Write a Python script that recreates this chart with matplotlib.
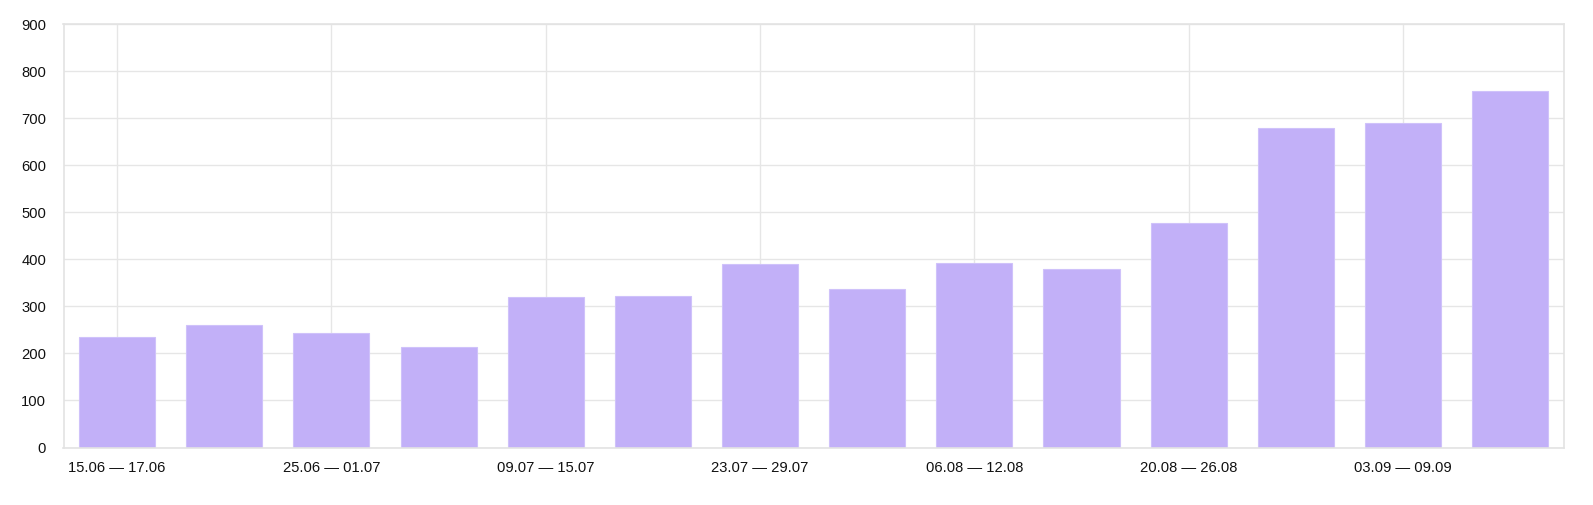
import matplotlib
matplotlib.use("Agg")
import matplotlib.pyplot as plt
import numpy as np

plt.rcParams['font.family'] = ['Liberation Sans', 'DejaVu Sans']

categories = [
    "15.06 — 17.06", "18.06 — 24.06", "25.06 — 01.07", "02.07 — 08.07",
    "09.07 — 15.07", "16.07 — 22.07", "23.07 — 29.07", "30.07 — 05.08",
    "06.08 — 12.08", "13.08 — 19.08", "20.08 — 26.08", "27.08 — 02.09",
    "03.09 — 09.09", "10.09 — 16.09",
]
values = [234, 260, 244, 214, 320, 323, 390, 336, 392, 379, 478, 679, 689, 758]
y_ticks = [0, 100, 200, 300, 400, 500, 600, 700, 800, 900]

bar_color = "#c2b0f8"
grid_color = "#e6e6e6"

fig = plt.figure(figsize=(15.93, 5.05), dpi=100)
ax = fig.add_axes([63.5 / 1593, 1 - 447.5 / 505, (1563.7 - 63.5) / 1593, (447.5 - 24) / 505])

x = np.arange(len(categories))
ax.bar(x, values, width=0.71, color=bar_color, edgecolor="#cfc2fa", linewidth=0.8, zorder=2)

ax.set_xlim(-0.5, len(categories) - 0.5)
ax.set_ylim(0, 900)
ax.set_yticks(y_ticks)
ax.set_yticklabels([str(v) for v in y_ticks])

label_idx = x[::2]
ax.set_xticks(label_idx)
ax.set_xticklabels([categories[i] for i in label_idx])

ax.grid(True, axis="both", color=grid_color, linewidth=1, zorder=0)
ax.set_axisbelow(True)

for s in ax.spines.values():
    s.set_color("#e3e3e3")
    s.set_linewidth(1.2)

ax.tick_params(axis="both", length=0, labelsize=10.6, colors="#111111")
ax.tick_params(axis="y", pad=12.5)
ax.tick_params(axis="x", pad=9.5)

fig.savefig("out.png", dpi=100, facecolor="white")
